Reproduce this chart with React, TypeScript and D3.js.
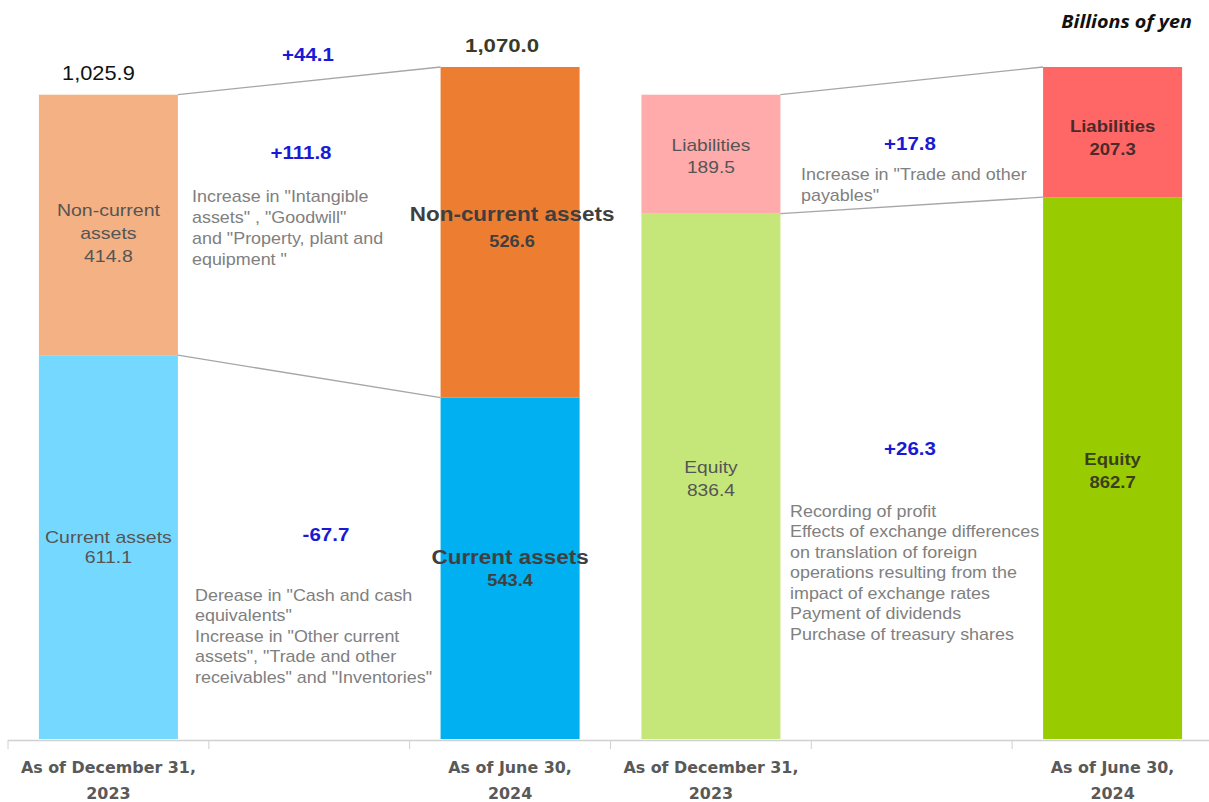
import React from "react";
import * as d3 from "d3";

const categories = ["As of December 31,|2023", "gap1", "As of June 30,|2024", "As of December 31,|2023", "gap2", "As of June 30,|2024"];
const currentAssets = [611.1, 543.4];
const nonCurrentAssets = [414.8, 526.6];
const totalAssets = [1025.9, 1070.0];
const equity = [836.4, 862.7];
const liabilities = [189.5, 207.3];
const changes = { total: "+44.1", nonCurrent: "+111.8", current: "-67.7", liabilities: "+17.8", equity: "+26.3" };

const nonCurrentNote = ["Increase in \"Intangible", "assets\" , \"Goodwill\"", "and \"Property, plant and", "equipment  \""];
const currentNote = ["Derease in \"Cash and cash", "equivalents\"", "Increase in \"Other current", "assets\", \"Trade and other", "receivables\" and \"Inventories\""];
const liabNote = ["Increase in \"Trade and other", "payables\""];
const equityNote = ["Recording of profit", "Effects of exchange differences", "on translation of foreign", "operations resulting from the", "impact of exchange rates", "Payment of dividends", "Purchase of treasury shares"];

const W = 1209, H = 802;
const FONT = "Liberation Sans, Arial, sans-serif";

type STProps = {
  x: number; y: number; sx?: number; lines: string[]; lh?: number; anchor?: "start" | "middle" | "end";
  size: number; bold?: boolean; italic?: boolean; fill: string; family?: string; sizes?: number[];
};

function SText({ x, y, sx = 1, lines, lh = 20, anchor = "start", size, bold, italic, fill, family, sizes }: STProps) {
  return (
    <text transform={`translate(${x},${y}) scale(${sx},1)`} textAnchor={anchor} fontSize={size}
      fontWeight={bold ? "bold" : "normal"} fontStyle={italic ? "italic" : "normal"} fill={fill} fontFamily={family || FONT}>
      {lines.map((l, i) => (
        <tspan key={i} x={0} y={i * lh} fontSize={sizes ? sizes[i] : size}>{l}</tspan>
      ))}
    </text>
  );
}

export default function App() {
  const x = d3.scaleBand<string>().domain(categories.map((c, i) => i + ":" + c)).range([8, 1213]).paddingInner(0).paddingOuter(0);
  const key = (i: number) => i + ":" + categories[i];
  const bw = 139;
  const cx = (i: number) => (x(key(i)) as number) + x.bandwidth() / 2;
  const bx = (i: number) => cx(i) - bw / 2;
  const y = d3.scaleLinear().domain([0, 1070]).range([739, 67]);

  const idxA = [0, 2];
  const idxE = [3, 5];
  const ncColors = ["#F4B183", "#ED7D31"];
  const cuColors = ["#75D9FF", "#00B0F0"];
  const eqColors = ["#C5E77A", "#99CC00"];
  const liColors = ["#FFABAB", "#FF6666"];

  const blue = "#1A1AD6";
  const noteGray = "#808080";
  const line = d3.line<[number, number]>();
  const fmt = d3.format(",.1f");

  return (
    <svg width={W} height={H} style={{ position: "absolute", left: 0, top: 0, background: "#fff" }} fontFamily={FONT}>
      <rect x={0} y={0} width={W} height={H} fill="#fff" />
      {/* axis */}
      <line x1={8} x2={1209} y1={740.5} y2={740.5} stroke="#D0D0D0" strokeWidth={1.5} />
      {categories.map((c, i) => (
        <line key={"t" + i} x1={(x(key(i)) as number)} x2={(x(key(i)) as number)} y1={740} y2={749} stroke="#D0D0D0" strokeWidth={1} />
      ))}
      {categories.map((c, i) =>
        c.startsWith("gap") ? null : (
          <SText key={"l" + i} x={cx(i)} y={773} sx={1.14} anchor="middle" size={15.5} bold fill="#595959"
            family="DejaVu Sans Condensed, sans-serif" lines={c.split("|")} lh={26} />
        )
      )}

      {/* asset bars */}
      {idxA.map((ci, j) => (
        <g key={"a" + j}>
          <rect x={bx(ci)} width={bw} y={y(currentAssets[j])} height={y(0) - y(currentAssets[j])} fill={cuColors[j]} />
          <rect x={bx(ci)} width={bw} y={y(currentAssets[j] + nonCurrentAssets[j])} height={y(currentAssets[j]) - y(currentAssets[j] + nonCurrentAssets[j])} fill={ncColors[j]} />
        </g>
      ))}
      {idxE.map((ci, j) => (
        <g key={"e" + j}>
          <rect x={bx(ci)} width={bw} y={y(equity[j])} height={y(0) - y(equity[j])} fill={eqColors[j]} />
          <rect x={bx(ci)} width={bw} y={y(equity[j] + liabilities[j])} height={y(equity[j]) - y(equity[j] + liabilities[j])} fill={liColors[j]} />
        </g>
      ))}

      {/* connectors */}
      <path d={line([[bx(0) + bw, y(totalAssets[0])], [bx(2), y(totalAssets[1])]]) as string} stroke="#A6A6A6" strokeWidth={1.3} fill="none" />
      <path d={line([[bx(0) + bw, y(currentAssets[0])], [bx(2), y(currentAssets[1])]]) as string} stroke="#A6A6A6" strokeWidth={1.3} fill="none" />
      <path d={line([[bx(3) + bw, y(equity[0] + liabilities[0])], [bx(5), y(equity[1] + liabilities[1])]]) as string} stroke="#A6A6A6" strokeWidth={1.3} fill="none" />
      <path d={line([[bx(3) + bw, y(equity[0])], [bx(5), y(equity[1])]]) as string} stroke="#A6A6A6" strokeWidth={1.3} fill="none" />

      {/* totals */}
      <SText x={cx(0) - 10} y={80} sx={1.09} anchor="middle" size={20} fill="#111" lines={[fmt(totalAssets[0])]} />
      <SText x={cx(2) - 8} y={52} sx={1.17} anchor="middle" size={19} bold fill="#3A3A28" lines={[fmt(totalAssets[1])]} />

      {/* bar labels, previous period */}
      <SText x={cx(0)} y={216} sx={1.22} anchor="middle" size={16} fill="#555" lh={23}
        lines={["Non-current", "assets", nonCurrentAssets[0].toFixed(1)]} />
      <SText x={cx(0)} y={543} sx={1.22} anchor="middle" size={16} fill="#555" lh={20}
        lines={["Current assets", currentAssets[0].toFixed(1)]} />
      <SText x={cx(3)} y={151} sx={1.2} anchor="middle" size={16} fill="#555" lh={22}
        lines={["Liabilities", liabilities[0].toFixed(1)]} />
      <SText x={cx(3)} y={473} sx={1.2} anchor="middle" size={16} fill="#555" lh={23}
        lines={["Equity", equity[0].toFixed(1)]} />

      {/* bar labels, current period */}
      <SText x={cx(2) + 2} y={221} sx={1.07} anchor="middle" size={21} bold fill="#3F3F3F" lh={26} sizes={[21, 17]}
        lines={["Non-current assets", nonCurrentAssets[1].toFixed(1)]} />
      <SText x={cx(2)} y={564} sx={1.07} anchor="middle" size={21} bold fill="#3F3F3F" lh={22} sizes={[21, 17]}
        lines={["Current assets", currentAssets[1].toFixed(1)]} />
      <SText x={cx(5)} y={132} sx={1.09} anchor="middle" size={17} bold fill="#4A2A2A" lh={23}
        lines={["Liabilities", liabilities[1].toFixed(1)]} />
      <SText x={cx(5)} y={465} sx={1.09} anchor="middle" size={17} bold fill="#3A3F20" lh={23}
        lines={["Equity", equity[1].toFixed(1)]} />

      {/* change values */}
      <SText x={308} y={61} sx={1.08} anchor="middle" size={19} bold fill={blue} lines={[changes.total]} />
      <SText x={301} y={159} sx={1.08} anchor="middle" size={19} bold fill={blue} lines={[changes.nonCurrent]} />
      <SText x={326} y={541} sx={1.08} anchor="middle" size={19} bold fill={blue} lines={[changes.current]} />
      <SText x={910} y={150} sx={1.08} anchor="middle" size={19} bold fill={blue} lines={[changes.liabilities]} />
      <SText x={910} y={455} sx={1.08} anchor="middle" size={19} bold fill={blue} lines={[changes.equity]} />

      {/* notes */}
      <SText x={192} y={202} sx={1.12} size={16} fill={noteGray} lh={21} lines={nonCurrentNote} />
      <SText x={195} y={601} sx={1.12} size={16} fill={noteGray} lh={20.5} lines={currentNote} />
      <SText x={801} y={180} sx={1.12} size={16} fill={noteGray} lh={21} lines={liabNote} />
      <SText x={790} y={517} sx={1.12} size={16} fill={noteGray} lh={20.5} lines={equityNote} />

      <SText x={1192} y={28} sx={1.16} anchor="end" size={17} bold italic fill="#111" family="Open Sans, sans-serif" lines={["Billions of yen"]} />
    </svg>
  );
}
